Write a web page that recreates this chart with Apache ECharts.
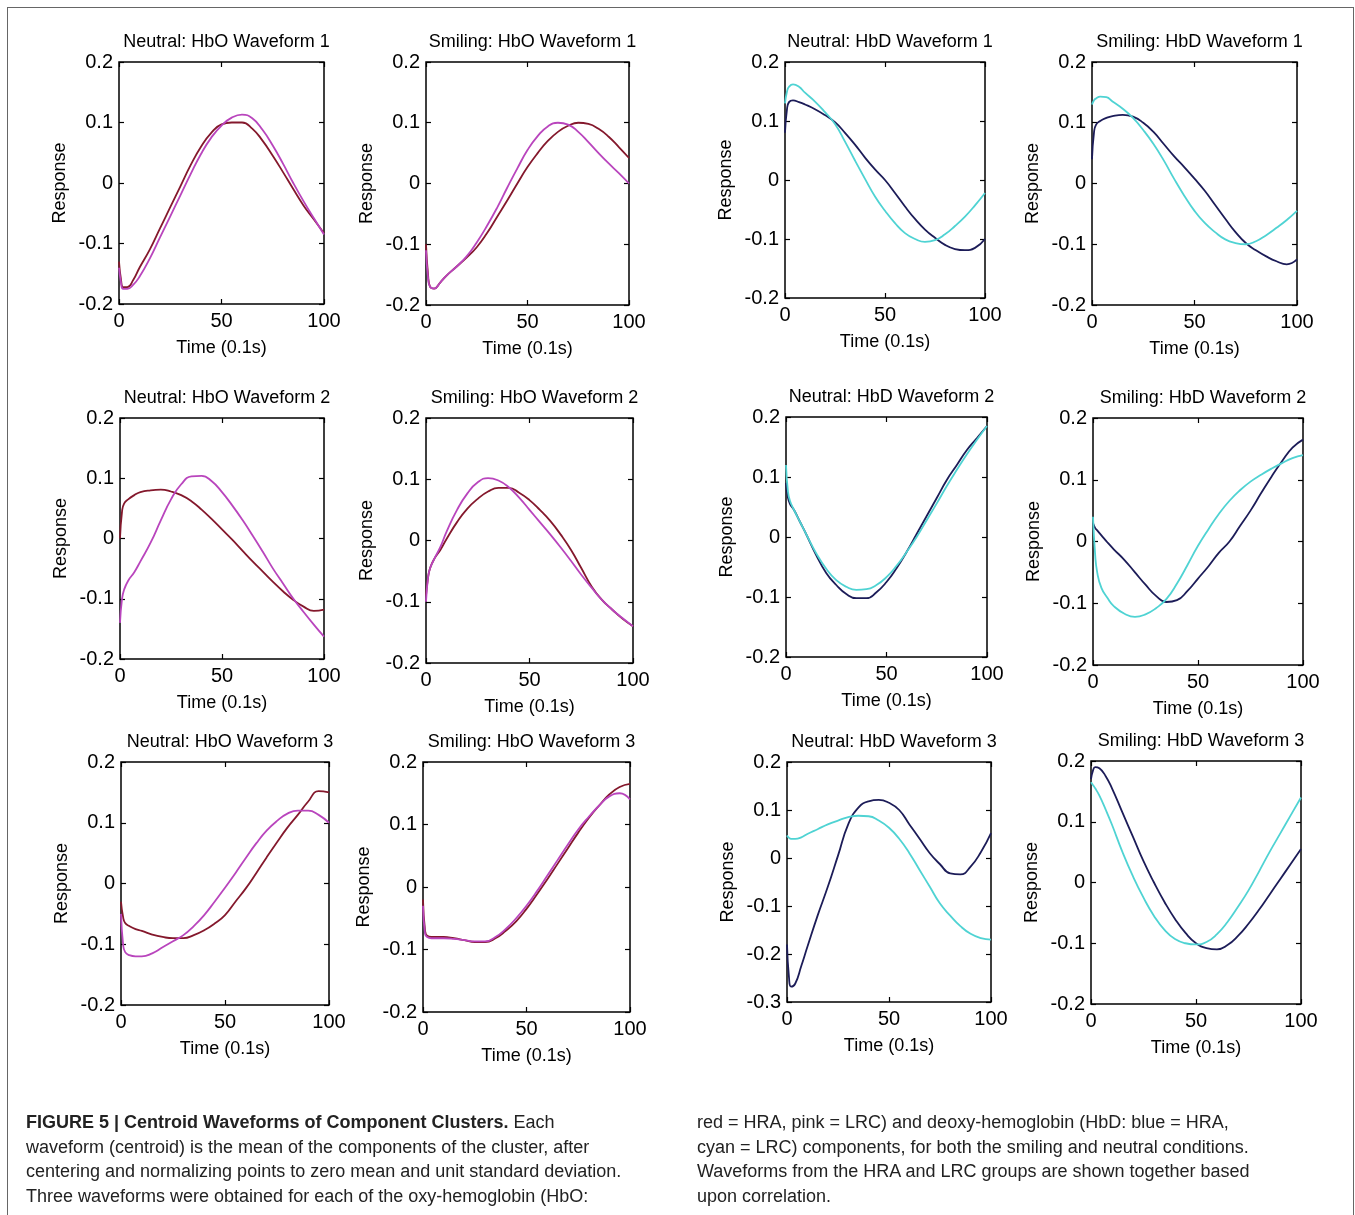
<!DOCTYPE html>
<html>
<head>
<meta charset="utf-8">
<title>Figure 5 - Centroid Waveforms</title>
<script src="https://cdn.jsdelivr.net/npm/echarts@6/dist/echarts.min.js"></script>
<style>
  html, body { margin: 0; padding: 0; background: #fff; }
  .page { position: relative; width: 1355px; height: 1215px; overflow: hidden; }
  .frame { position: absolute; left: 7px; top: 7px; width: 1345px; height: 1240px; border: 1px solid #666; }
  .chart { position: absolute; left: 0; top: 0; width: 1355px; height: 1215px; }
  .caption { position: absolute; top: 1110px; font-family: "Liberation Sans", Arial, sans-serif;
    font-size: 18px; line-height: 24.7px; color: #222; white-space: nowrap; }
</style>
</head>
<body>
<div class="page">
  <div class="frame"></div>
  <div class="chart"></div>
  <div class="caption" style="left:26px;">
    <b>FIGURE 5 | Centroid Waveforms of Component Clusters.</b> Each<br>
    waveform (centroid) is the mean of the components of the cluster, after<br>
    centering and normalizing points to zero mean and unit standard deviation.<br>
    Three waveforms were obtained for each of the oxy-hemoglobin (HbO:
  </div>
  <div class="caption" style="left:697px;">
    red = HRA, pink = LRC) and deoxy-hemoglobin (HbD: blue = HRA,<br>
    cyan = LRC) components, for both the smiling and neutral conditions.<br>
    Waveforms from the HRA and LRC groups are shown together based<br>
    upon correlation.
  </div>
</div>
<script>
// 时间轴 (0.1s)
const times = [0, 1, 2, 4, 7, 10, 15, 20, 25, 30, 35, 40, 45, 50, 55, 60, 65, 70, 75, 80, 85, 90, 95, 100];

// HbO waveform 1
const neutralHbO1HRA = [-0.13, -0.16, -0.172, -0.172, -0.16, -0.14, -0.11, -0.075, -0.04, -0.005, 0.03, 0.06, 0.083, 0.097, 0.1, 0.1, 0.09, 0.07, 0.045, 0.018, -0.01, -0.037, -0.06, -0.083];
const neutralHbO1LRC = [-0.14, -0.165, -0.175, -0.175, -0.168, -0.155, -0.125, -0.09, -0.055, -0.02, 0.015, 0.048, 0.075, 0.095, 0.108, 0.113, 0.107, 0.088, 0.062, 0.032, 0.0, -0.03, -0.058, -0.085];
const smilingHbO1HRA = [-0.1, -0.15, -0.17, -0.173, -0.163, -0.152, -0.137, -0.122, -0.105, -0.082, -0.055, -0.028, 0.0, 0.027, 0.05, 0.07, 0.085, 0.095, 0.1, 0.098, 0.09, 0.077, 0.06, 0.042];
const smilingHbO1LRC = [-0.11, -0.155, -0.17, -0.173, -0.163, -0.152, -0.137, -0.12, -0.097, -0.07, -0.04, -0.007, 0.025, 0.055, 0.078, 0.094, 0.1, 0.097, 0.085, 0.068, 0.05, 0.033, 0.017, 0.0];

// HbD waveform 1
const neutralHbD1HRA = [0.08, 0.12, 0.132, 0.135, 0.132, 0.128, 0.12, 0.11, 0.098, 0.08, 0.06, 0.038, 0.018, 0.0, -0.022, -0.045, -0.066, -0.084, -0.098, -0.11, -0.117, -0.119, -0.115, -0.1];
const neutralHbD1LRC = [0.13, 0.15, 0.158, 0.162, 0.158, 0.148, 0.133, 0.115, 0.095, 0.065, 0.033, 0.002, -0.028, -0.052, -0.073, -0.09, -0.1, -0.105, -0.102, -0.092, -0.078, -0.062, -0.043, -0.022];
const smilingHbD1HRA = [0.04, 0.085, 0.097, 0.103, 0.108, 0.111, 0.113, 0.11, 0.1, 0.085, 0.065, 0.045, 0.027, 0.008, -0.012, -0.035, -0.058, -0.08, -0.098, -0.11, -0.12, -0.128, -0.133, -0.125];
const smilingHbD1LRC = [0.13, 0.137, 0.14, 0.143, 0.142, 0.135, 0.123, 0.108, 0.088, 0.065, 0.038, 0.008, -0.02, -0.045, -0.065, -0.08, -0.092, -0.098, -0.1, -0.095, -0.085, -0.073, -0.06, -0.045];

// HbO waveform 2
const neutralHbO2HRA = [0.0, 0.045, 0.058, 0.065, 0.072, 0.077, 0.08, 0.081, 0.078, 0.072, 0.062, 0.048, 0.032, 0.015, -0.002, -0.02, -0.038, -0.055, -0.072, -0.088, -0.102, -0.113, -0.12, -0.118];
const neutralHbO2LRC = [-0.14, -0.1, -0.085, -0.07, -0.056, -0.038, -0.007, 0.03, 0.065, 0.09, 0.103, 0.104, 0.095, 0.077, 0.055, 0.031, 0.005, -0.022, -0.05, -0.075, -0.1, -0.122, -0.143, -0.163];
const smilingHbO2HRA = [-0.09, -0.06, -0.045, -0.03, -0.015, 0.003, 0.03, 0.052, 0.068, 0.08, 0.086, 0.086, 0.078, 0.066, 0.05, 0.032, 0.01, -0.015, -0.045, -0.075, -0.097, -0.113, -0.128, -0.14];
const smilingHbO2LRC = [-0.1, -0.06, -0.045, -0.03, -0.01, 0.015, 0.05, 0.077, 0.095, 0.102, 0.098, 0.087, 0.07, 0.05, 0.03, 0.01, -0.011, -0.033, -0.056, -0.077, -0.097, -0.113, -0.127, -0.14];

// HbD waveform 2
const neutralHbD2HRA = [0.09, 0.065, 0.055, 0.045, 0.025, 0.005, -0.03, -0.06, -0.08, -0.095, -0.102, -0.102, -0.092, -0.075, -0.052, -0.025, 0.005, 0.035, 0.065, 0.095, 0.12, 0.145, 0.165, 0.185];
const neutralHbD2LRC = [0.12, 0.075, 0.06, 0.045, 0.025, 0.005, -0.027, -0.053, -0.072, -0.083, -0.088, -0.087, -0.08, -0.067, -0.048, -0.025, 0.0, 0.028, 0.056, 0.085, 0.112, 0.138, 0.162, 0.185];
const smilingHbD2HRA = [0.03, 0.022, 0.018, 0.01, -0.002, -0.013, -0.03, -0.05, -0.07, -0.088, -0.098, -0.095, -0.08, -0.06, -0.04, -0.018, 0.0, 0.025, 0.05, 0.078, 0.105, 0.13, 0.152, 0.165];
const smilingHbD2LRC = [0.04, -0.02, -0.05, -0.075, -0.092, -0.105, -0.117, -0.122, -0.118, -0.108, -0.093, -0.068, -0.038, -0.007, 0.02, 0.045, 0.066, 0.083, 0.097, 0.108, 0.118, 0.127, 0.135, 0.14];

// HbO waveform 3
const neutralHbO3HRA = [-0.03, -0.055, -0.065, -0.07, -0.075, -0.078, -0.084, -0.088, -0.09, -0.09, -0.085, -0.077, -0.066, -0.052, -0.03, -0.008, 0.017, 0.043, 0.068, 0.092, 0.113, 0.135, 0.152, 0.15];
const neutralHbO3LRC = [-0.05, -0.1, -0.113, -0.118, -0.12, -0.12, -0.115, -0.105, -0.095, -0.085, -0.07, -0.052, -0.03, -0.007, 0.017, 0.042, 0.066, 0.087, 0.103, 0.115, 0.12, 0.12, 0.113, 0.1];
const smilingHbO3HRA = [-0.02, -0.07, -0.078, -0.08, -0.08, -0.08, -0.082, -0.085, -0.088, -0.088, -0.082, -0.07, -0.055, -0.035, -0.012, 0.012, 0.037, 0.062, 0.087, 0.11, 0.13, 0.148, 0.16, 0.165];
const smilingHbO3LRC = [-0.03, -0.075, -0.08, -0.082, -0.082, -0.082, -0.083, -0.085, -0.087, -0.087, -0.08, -0.067, -0.05, -0.03, -0.007, 0.018, 0.043, 0.068, 0.092, 0.112, 0.13, 0.145, 0.15, 0.14];

// HbD waveform 3
const neutralHbD3HRA = [-0.18, -0.25, -0.268, -0.262, -0.225, -0.185, -0.12, -0.06, 0.005, 0.07, 0.105, 0.118, 0.121, 0.115, 0.1, 0.07, 0.04, 0.01, -0.013, -0.032, -0.034, -0.018, 0.012, 0.052];
const neutralHbD3LRC = [0.047, 0.042, 0.04, 0.04, 0.043, 0.05, 0.06, 0.07, 0.078, 0.085, 0.088, 0.087, 0.078, 0.063, 0.04, 0.01, -0.025, -0.06, -0.095, -0.12, -0.142, -0.158, -0.167, -0.17];
const smilingHbD3HRA = [0.17, 0.185, 0.19, 0.188, 0.175, 0.155, 0.115, 0.075, 0.035, 0.0, -0.032, -0.06, -0.083, -0.1, -0.108, -0.11, -0.103, -0.088, -0.068, -0.045, -0.02, 0.005, 0.03, 0.055];
const smilingHbD3LRC = [0.165, 0.16, 0.155, 0.143, 0.12, 0.095, 0.05, 0.01, -0.025, -0.055, -0.078, -0.093, -0.1, -0.102, -0.098, -0.085, -0.065, -0.04, -0.013, 0.018, 0.05, 0.08, 0.11, 0.14];

// 刻度
const xTicks = { min: 0, max: 100, step: 50 };
const yTicks = { min: -0.2, max: 0.2, step: 0.1 };
const yTicksDeep = { min: -0.3, max: 0.2, step: 0.1 };

const titles = [
  'Neutral: HbO Waveform 1', 'Smiling: HbO Waveform 1', 'Neutral: HbD Waveform 1', 'Smiling: HbD Waveform 1',
  'Neutral: HbO Waveform 2', 'Smiling: HbO Waveform 2', 'Neutral: HbD Waveform 2', 'Smiling: HbD Waveform 2',
  'Neutral: HbO Waveform 3', 'Smiling: HbO Waveform 3', 'Neutral: HbD Waveform 3', 'Smiling: HbD Waveform 3'
];

(function () {
  const chart = echarts.init(document.querySelector('.chart'));
  const font = '"Liberation Sans", Arial, sans-serif';

  const red = '#84182c', pink = '#b945bd', blue = '#1c1c58', cyan = '#4fd3d3';

  // 每个子图: 两条曲线 + 颜色 + y 轴范围
  const panels = [
    [neutralHbO1HRA, neutralHbO1LRC, red, pink, yTicks],
    [smilingHbO1HRA, smilingHbO1LRC, red, pink, yTicks],
    [neutralHbD1HRA, neutralHbD1LRC, blue, cyan, yTicks],
    [smilingHbD1HRA, smilingHbD1LRC, blue, cyan, yTicks],
    [neutralHbO2HRA, neutralHbO2LRC, red, pink, yTicks],
    [smilingHbO2HRA, smilingHbO2LRC, red, pink, yTicks],
    [neutralHbD2HRA, neutralHbD2LRC, blue, cyan, yTicks],
    [smilingHbD2HRA, smilingHbD2LRC, blue, cyan, yTicks],
    [neutralHbO3HRA, neutralHbO3LRC, red, pink, yTicks],
    [smilingHbO3HRA, smilingHbO3LRC, red, pink, yTicks],
    [neutralHbD3HRA, neutralHbD3LRC, blue, cyan, yTicksDeep],
    [smilingHbD3HRA, smilingHbD3LRC, blue, cyan, yTicks]
  ];

  // 绘图框位置 [left, top, right, bottom]
  const boxes = [
    [119, 62, 324, 304], [426, 62, 629, 305], [785, 62, 985, 298], [1092, 62, 1297, 305],
    [120, 418, 324, 659], [426, 418, 633, 663], [786, 417, 987, 657], [1093, 418, 1303, 665],
    [121, 762, 329, 1005], [423, 762, 630, 1012], [787, 762, 991, 1002], [1091, 761, 1301, 1004]
  ];

  const fmt = function (v) { return String(Math.round(v * 10) / 10); };
  const tick = { show: true, inside: true, length: 5, lineStyle: { color: '#000', width: 1.2 } };
  const noLine = { show: false, onZero: false };

  const grid = [], xAxis = [], yAxis = [], series = [], title = [];

  panels.forEach(function (p, i) {
    const b = boxes[i];
    const yr = p[4];
    grid.push({
      left: b[0], top: b[1], width: b[2] - b[0], height: b[3] - b[1],
      show: true, borderColor: '#000', borderWidth: 1.5, backgroundColor: '#fff'
    });
    title.push({
      text: titles[i],
      left: (b[0] + b[2]) / 2, top: b[1] - 35, textAlign: 'center',
      textStyle: { fontFamily: font, fontSize: 18, fontWeight: 'normal', color: '#000', lineHeight: 20 }
    });
    // 下方与左侧主坐标轴
    xAxis.push({
      gridIndex: i, type: 'value', min: xTicks.min, max: xTicks.max, interval: xTicks.step,
      name: 'Time (0.1s)', nameLocation: 'middle', nameGap: 35,
      nameTextStyle: { fontFamily: font, fontSize: 18, color: '#000' },
      axisLine: noLine, axisTick: tick, splitLine: { show: false },
      axisLabel: { fontFamily: font, fontSize: 20, color: '#000', margin: 7 }
    });
    yAxis.push({
      gridIndex: i, type: 'value', min: yr.min, max: yr.max, interval: yr.step,
      name: 'Response', nameLocation: 'middle', nameGap: 50,
      nameTextStyle: { fontFamily: font, fontSize: 18, color: '#000' },
      axisLine: noLine, axisTick: tick, splitLine: { show: false },
      axisLabel: { fontFamily: font, fontSize: 20, color: '#000', margin: 6, formatter: fmt }
    });
    // 上方与右侧刻度
    xAxis.push({
      gridIndex: i, type: 'value', position: 'top', min: xTicks.min, max: xTicks.max, interval: xTicks.step,
      axisLine: noLine, axisTick: tick, axisLabel: { show: false }, splitLine: { show: false }
    });
    yAxis.push({
      gridIndex: i, type: 'value', position: 'right', min: yr.min, max: yr.max, interval: yr.step,
      axisLine: noLine, axisTick: tick, axisLabel: { show: false }, splitLine: { show: false }
    });

    [[p[0], p[2], 'HRA'], [p[1], p[3], 'LRC']].forEach(function (s) {
      series.push({
        name: s[2], type: 'line', xAxisIndex: i * 2, yAxisIndex: i * 2,
        data: times.map(function (t, k) { return [t, s[0][k]]; }),
        showSymbol: false, smooth: 0.5,
        lineStyle: { color: s[1], width: 1.8 }, itemStyle: { color: s[1] },
        silent: true
      });
    });
  });

  let option = {
    backgroundColor: 'transparent',
    animation: false,
    title: title,
    grid: grid,
    xAxis: xAxis,
    yAxis: yAxis,
    series: series
  };

  chart.setOption(option);
  window.addEventListener('resize', function () {
    chart.resize();
  });
})();
</script>
</body>
</html>
